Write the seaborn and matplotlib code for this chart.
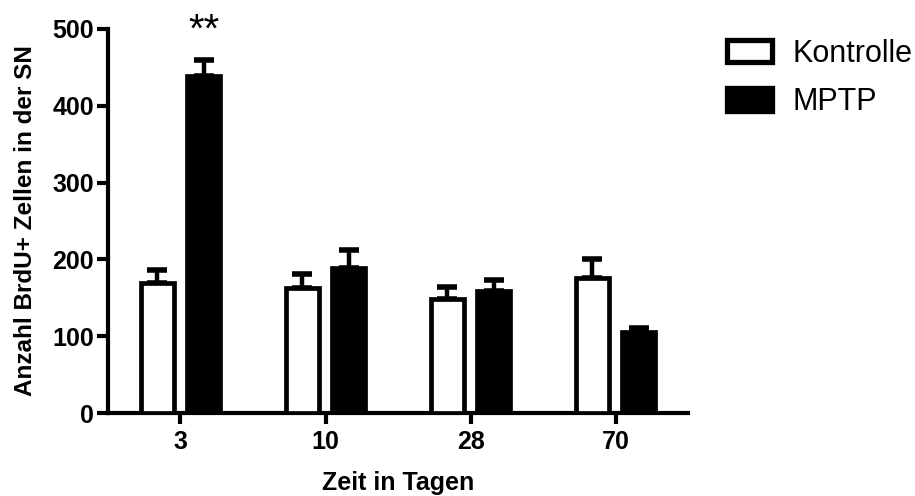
import matplotlib
matplotlib.use("Agg")
import matplotlib.pyplot as plt
import matplotlib.transforms as mtransforms
import seaborn as sns
import pandas as pd
import numpy as np
from matplotlib.patches import Patch

days = ["3", "10", "28", "70"]
groups = ["Kontrolle", "MPTP"]
kontrolle_mean = [169, 163, 149, 176]
kontrolle_sem = [17, 18, 15, 25]
mptp_mean = [439, 189, 159, 105]
mptp_sem = [21, 23, 14, 6]
y_ticks = [0, 100, 200, 300, 400, 500]

sns.set_style("ticks")
plt.rcParams["font.family"] = ["Liberation Sans", "DejaVu Sans"]
for k in ["text.color", "axes.labelcolor", "xtick.color", "ytick.color", "axes.edgecolor"]:
    plt.rcParams[k] = "black"

df = pd.DataFrame({
    "Tag": days * 2,
    "Gruppe": [groups[0]] * 4 + [groups[1]] * 4,
    "Wert": kontrolle_mean + mptp_mean,
    "SEM": kontrolle_sem + mptp_sem,
})

fig = plt.figure(figsize=(9.15, 4.96), dpi=100)
ax = fig.add_axes([0.118, 0.167, 0.634, 0.775])

sns.barplot(data=df, x="Tag", y="Wert", hue="Gruppe", order=days, hue_order=groups,
            palette={"Kontrolle": "white", "MPTP": "black"}, errorbar=None,
            width=0.64, gap=0.28, edgecolor="black", linewidth=3.4, ax=ax,
            legend=False, zorder=3)

# error bars (upper only) from bar geometry
bars = [p for p in ax.patches]
for i, p in enumerate(bars):
    gi = i // 4
    di = i % 4
    sem = (kontrolle_sem if gi == 0 else mptp_sem)[di]
    xc = p.get_x() + p.get_width() / 2
    h = p.get_height()
    ax.errorbar([xc], [h], yerr=[[0], [sem]], fmt="none", ecolor="black",
                elinewidth=3.2, capsize=7, capthick=4, zorder=2)

# significance marker above MPTP day 3
p = bars[4]
trans = mtransforms.blended_transform_factory(ax.transData, fig.transFigure)
ax.text(p.get_x() + p.get_width() / 2, 1 - 12 / 496, "**", transform=trans,
        ha="center", va="top", fontsize=29)

ax.set_xlim(-0.5, 3.5)
ax.set_ylim(0, 500)
ax.set_yticks(y_ticks)
ax.set_yticklabels([str(t) for t in y_ticks])
sns.despine(ax=ax)
for s in ["left", "bottom"]:
    ax.spines[s].set_linewidth(3)
ax.tick_params(axis="both", width=3, length=8, labelsize=18, pad=2)
ax.tick_params(axis="x", labelsize=18, pad=4)
for lab in ax.get_xticklabels() + ax.get_yticklabels():
    lab.set_fontweight("bold")
ax.set_xlabel("Zeit in Tagen", fontsize=18, fontweight="bold", labelpad=12)
ax.set_ylabel("Anzahl BrdU+ Zellen in der SN", fontsize=17.5, fontweight="bold", labelpad=11)

handles = [Patch(facecolor="white", edgecolor="black", linewidth=3.8),
           Patch(facecolor="black", edgecolor="black", linewidth=3.8)]
fig.legend(handles, groups, loc="upper left", bbox_to_anchor=(0.794, 0.922),
           frameon=False, fontsize=22, handlelength=1.5, handleheight=0.75,
           handletextpad=0.65, labelspacing=0.6, borderpad=0, borderaxespad=0)

fig.savefig("out.png", dpi=100)
